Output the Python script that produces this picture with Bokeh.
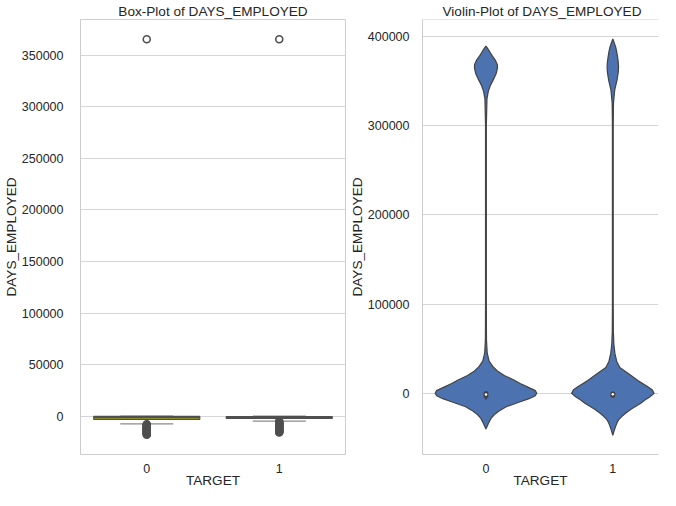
import numpy as np
from bokeh.plotting import figure
from bokeh.layouts import row
from bokeh.models import Span, FixedTicker, NumeralTickFormatter, Range1d
from bokeh.embed import file_html
from bokeh.resources import INLINE

# ---------------- data ----------------
categories = [0, 1]
cat_labels = ["0", "1"]

# box-plot statistics (DAYS_EMPLOYED by TARGET)
q1 = [-3100, -2100]
median = [-1300, -1100]
q3 = [-250, -400]
whisker_lo = [-7300, -4650]
whisker_hi = [0, 0]

outliers_0 = [-7800, -8400, -9000, -9600, -10200, -10800, -11400, -12000, -12600,
              -13200, -13800, -14400, -15000, -15600, -16200, -16800, -17400,
              -17912, 365243]
outliers_1 = [-5000, -5600, -6200, -6800, -7400, -8000, -8600, -9200, -9800,
              -10400, -11000, -11600, -12200, -12800, -13400, -14000, -14600,
              -15200, -15800, 365243]

# violin density profiles (value, half-width in category units)
violin0_vals = [-40000, -36000, -32000, -28000, -24000, -20000, -15000, -10000, -6000,
                -3000, 0, 3000, 7000, 11000, 15000, 20000, 25000, 30000, 36000, 45000,
                60000, 100000, 200000, 300000, 330000, 338000, 345000, 352000, 358000,
                364000, 368000, 373000, 378000, 383000, 387000, 389000]
violin0_wid = [0, 0.012, 0.025, 0.04, 0.065, 0.1, 0.16, 0.26, 0.34,
               0.385, 0.40, 0.39, 0.33, 0.27, 0.22, 0.145, 0.09, 0.055, 0.025, 0.01,
               0.004, 0.003, 0.003, 0.003, 0.008, 0.018, 0.035, 0.06, 0.08,
               0.09, 0.09, 0.075, 0.05, 0.028, 0.01, 0]

violin1_vals = [-47000, -42000, -37000, -33000, -29700, -26000, -22400, -18000, -15000,
                -11000, -7700, -4000, 0, 4000, 8000, 14000, 21500, 29000, 36000, 45000,
                55000, 70000, 100000, 200000, 300000, 325000, 333000, 340000, 351000,
                360000, 366000, 372000, 377000, 383000, 388000, 393000, 397000]
violin1_wid = [0, 0.01, 0.022, 0.033, 0.045, 0.07, 0.1, 0.14, 0.175,
               0.22, 0.25, 0.29, 0.325, 0.31, 0.27, 0.2, 0.13, 0.055, 0.03, 0.016,
               0.008, 0.004, 0.003, 0.003, 0.003, 0.005, 0.01, 0.015, 0.033,
               0.043, 0.045, 0.042, 0.037, 0.03, 0.022, 0.01, 0]

box_ticks = [0, 50000, 100000, 150000, 200000, 250000, 300000, 350000]
violin_ticks = [0, 100000, 200000, 300000, 400000]

# ---------------- styles ----------------
FONT = "Liberation Sans"
TXT = "#262626"
GRID = "#d5d5d5"
EDGE = "#cccccc"
LINE = "#4f4f4f"
VLINE = "#444444"
box_fill = ["#bcbd22", "#8a8a8a"]
violin_fill = "#4c72b0"

H = 490


def style(p, yticks, ystandoff, lstandoff):
    p.title.text_font = FONT
    p.title.text_font_size = "13.6px"
    p.title.text_font_style = "normal"
    p.title.text_color = TXT
    p.title.standoff = 2
    for ax in (p.xaxis[0], p.yaxis[0]):
        ax.major_label_text_font = FONT
        ax.major_label_text_font_size = "12.5px"
        ax.major_label_text_color = TXT
        ax.axis_label_text_font = FONT
        ax.axis_label_text_font_size = "13.6px"
        ax.axis_label_text_font_style = "normal"
        ax.axis_label_text_color = TXT
        ax.major_tick_line_color = None
        ax.minor_tick_line_color = None
        ax.axis_line_color = None
    p.xaxis[0].ticker = FixedTicker(ticks=categories)
    p.xaxis[0].major_label_overrides = {c: l for c, l in zip(categories, cat_labels)}
    p.xaxis[0].major_label_standoff = 3
    p.xaxis[0].axis_label_standoff = -3
    p.yaxis[0].ticker = FixedTicker(ticks=yticks)
    p.yaxis[0].formatter = NumeralTickFormatter(format="0")
    p.yaxis[0].major_label_standoff = ystandoff
    p.yaxis[0].axis_label_standoff = lstandoff
    p.xgrid.grid_line_color = None
    p.ygrid.grid_line_color = GRID
    p.ygrid.grid_line_width = 1
    p.background_fill_color = "white"
    p.border_fill_color = "white"


# ---------------- box plot ----------------
b_y0, b_y1 = -37070, 384400
p1 = figure(width=346, height=H, output_backend="svg", toolbar_location=None,
            title="Box-Plot of DAYS_EMPLOYED",
            x_range=Range1d(-0.5, 1.5), y_range=Range1d(b_y0, b_y1),
            min_border_left=77, min_border_right=1, min_border_top=17, min_border_bottom=30,
            x_axis_label="TARGET", y_axis_label="DAYS_EMPLOYED")
style(p1, box_ticks, 11, 0)
p1.title.align = "center"
p1.outline_line_color = EDGE
p1.outline_line_width = 1

half = 0.4
cap = 0.2
cx = np.array(categories, dtype=float)
# whiskers
p1.segment(x0=cx, y0=q1, x1=cx, y1=whisker_lo, line_color=LINE, line_width=1.25)
p1.segment(x0=cx, y0=q3, x1=cx, y1=whisker_hi, line_color=LINE, line_width=1.25)
p1.segment(x0=cx - cap, y0=whisker_lo, x1=cx + cap, y1=whisker_lo, line_color="#8a8a8a", line_width=1.25)
p1.segment(x0=cx - cap, y0=whisker_hi, x1=cx + cap, y1=whisker_hi, line_color="#8a8a8a", line_width=1.25)
# boxes
p1.quad(left=cx - half, right=cx + half, bottom=q1, top=q3,
        fill_color=box_fill, line_color=LINE, line_width=1.25)
p1.segment(x0=cx - half, y0=median, x1=cx + half, y1=median, line_color=LINE, line_width=1.25)
# outliers
p1.scatter(x=[categories[0]] * len(outliers_0), y=outliers_0, marker="circle", size=7,
           fill_color=None, line_color=LINE, line_width=1.6)
p1.scatter(x=[categories[1]] * len(outliers_1), y=outliers_1, marker="circle", size=7,
           fill_color=None, line_color=LINE, line_width=1.6)

# ---------------- violin plot ----------------
v_y0, v_y1 = -68500, 418800
p2 = figure(width=314, height=H, output_backend="svg", toolbar_location=None,
            title="Violin-Plot of DAYS_EMPLOYED",
            x_range=Range1d(-0.5, 1.36), y_range=Range1d(v_y0, v_y1),
            min_border_left=70, min_border_right=2, min_border_top=17, min_border_bottom=30,
            x_axis_label="TARGET", y_axis_label="DAYS_EMPLOYED")
style(p2, violin_ticks, 7, 0)
p2.title.align = "left"
p2.title.offset = 20
p2.outline_line_color = None
p2.xaxis[0].axis_line_color = EDGE
p2.yaxis[0].axis_line_color = EDGE
p2.add_layout(Span(location=v_y1, dimension="width", line_color=EDGE, line_width=1))

for c, vals, wid in ((categories[0], violin0_vals, violin0_wid),
                     (categories[1], violin1_vals, violin1_wid)):
    w = np.array(wid)
    xs = list(c + w) + list((c - w)[::-1])
    ys = list(vals) + list(vals[::-1])
    p2.patch(xs, ys, fill_color=violin_fill, line_color=VLINE, line_width=1.25)

# inner boxes
p2.segment(x0=cx, y0=whisker_lo, x1=cx, y1=whisker_hi, line_color=VLINE, line_width=1.5)
p2.segment(x0=cx, y0=q1, x1=cx, y1=q3, line_color=VLINE, line_width=5, line_cap="round")
p2.scatter(x=cx, y=median, marker="circle", size=2.5, fill_color="white", line_color=None)

layout = row(p1, p2)
open("out.html", "w").write(file_html(layout, INLINE))
